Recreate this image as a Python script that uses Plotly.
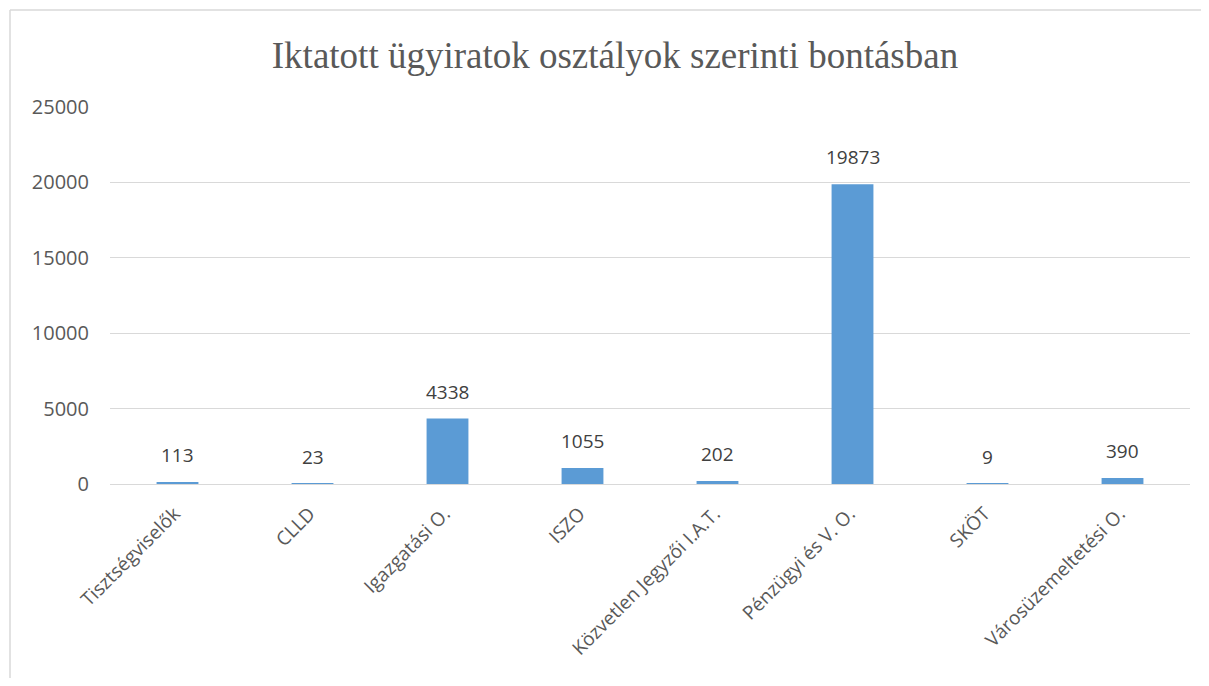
import plotly.graph_objects as go

categories = ["Tisztségviselők", "CLLD", "Igazgatási O.", "ISZO",
              "Közvetlen Jegyzői I.A.T.", "Pénzügyi és V. O.", "SKÖT",
              "Városüzemeltetési O."]
values = [113, 23, 4338, 1055, 202, 19873, 9, 390]
y_ticks = [0, 5000, 10000, 15000, 20000, 25000]
title_text = "Iktatott ügyiratok osztályok szerinti bontásban"

OFF = 8  # page body margin
W, H = 1209 - 2 * OFF, 686 - 2 * OFF
L, T = 110 - OFF, 107 - OFF
R = W - (1190 - OFF)
B = H - (484 - OFF)
pw, ph = W - L - R, H - T - B

fig = go.Figure(go.Bar(
    x=categories, y=values, marker_color="#5b9bd5", marker_line_width=0,
    cliponaxis=False, hoverinfo="x+y",
))

for c, v in zip(categories, values):
    fig.add_annotation(x=c, y=v, text=str(v), showarrow=False, yanchor="bottom",
                       yshift=12, font=dict(family="Open Sans", size=19, color="#404040"))

bx0 = (10 - OFF - L) / pw
bx1 = (W + 30 - L) / pw
by1 = (T + ph - (10 - OFF)) / ph
by0 = -(H + 30 - T - ph) / ph
border = dict(color="#d9d9d9", width=1.5)

fig.update_layout(
    width=W, height=H, margin=dict(l=L, r=R, t=T, b=B, autoexpand=False),
    paper_bgcolor="white", plot_bgcolor="white",
    bargap=0.69, showlegend=False,
    title=dict(text=title_text, x=(615 - OFF) / W, xanchor="center", y=1 - (55 - OFF) / H,
               yanchor="middle",
               font=dict(family="Liberation Serif", size=37, color="#595959")),
    xaxis=dict(tickangle=-45, tickfont=dict(family="Open Sans", size=19, color="#595959"),
               showgrid=False, showline=False, ticks="", automargin=False,
               ticklabelstandoff=14, ticklabelshift=-3),
    yaxis=dict(range=[0, 25000], tickvals=y_ticks, tickformat="d",
               tickfont=dict(family="Open Sans", size=20, color="#595959"),
               gridcolor="#d9d9d9", gridwidth=1.3, zeroline=True, zerolinecolor="#d9d9d9",
               zerolinewidth=1.3, showline=False, ticks="", ticklabelstandoff=20,
               automargin=False),
    shapes=[
        dict(type="line", xref="paper", yref="paper", x0=bx0, x1=bx1, y0=by1, y1=by1,
             line=border, layer="below"),
        dict(type="line", xref="paper", yref="paper", x0=bx0, x1=bx0, y0=by0, y1=by1,
             line=border, layer="below"),
    ],
)

fig.write_html("out.html")
